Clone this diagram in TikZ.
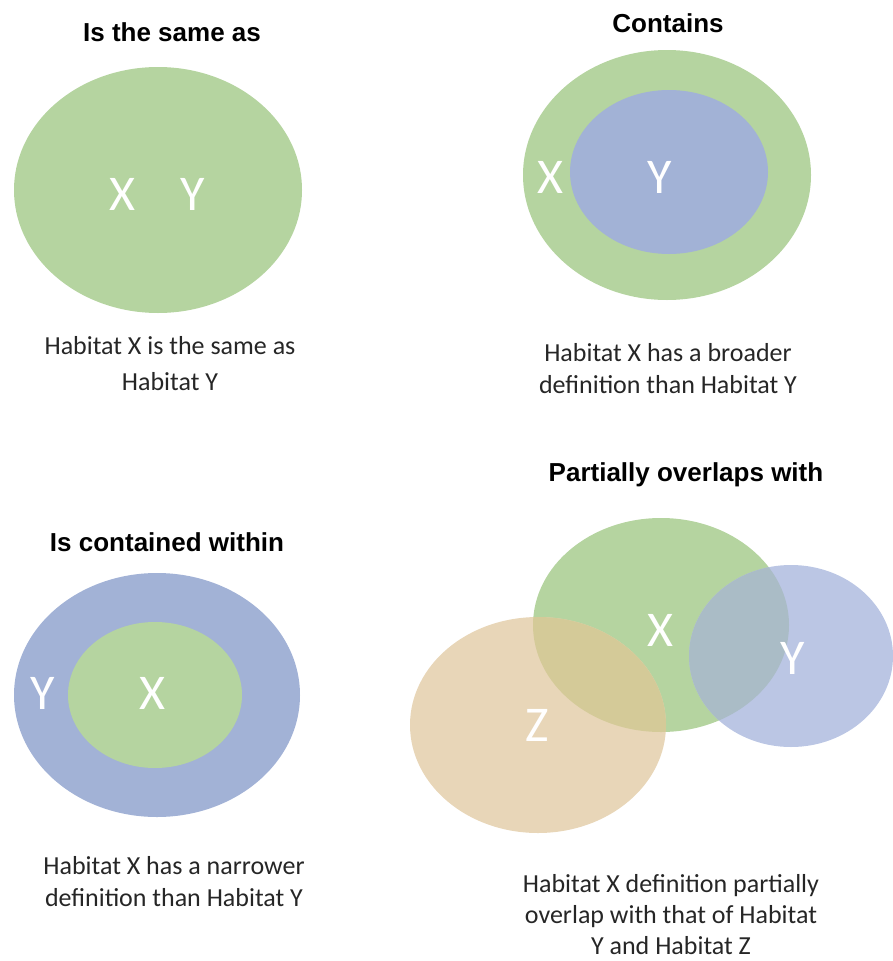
\documentclass[tikz,border=0pt]{standalone}
\usepackage{fontspec}
\setmainfont{Carlito}
\newfontfamily\headfont{Liberation Sans}
\usetikzlibrary{positioning}
\definecolor{blobgreen}{RGB}{181,212,160}
\definecolor{blobblue}{RGB}{162,178,214}
\definecolor{paleblue}{RGB}{187,198,228}
\definecolor{blobtan}{RGB}{232,214,184}
\definecolor{olivemix}{RGB}{212,202,152}
\definecolor{tealmix}{RGB}{170,188,198}
\tikzset{
    heading/.style={font=\headfont\bfseries\fontsize{26}{30}\selectfont, inner sep=0pt},
    caption/.style={font=\fontsize{26}{32}\selectfont, align=center, text=black!85, inner sep=0pt},
    setname/.style={font=\fontsize{50}{50}\selectfont, text=white, inner sep=0pt}
}
\begin{document}
\begin{tikzpicture}[x=1pt, y=-1pt]
  \useasboundingbox (0,0) rectangle (892,961);
  % is the same as
  \fill[blobgreen] (158,190) ellipse [x radius=144, y radius=123];
  \node(sameT)[heading] at (172,32) {Is the same as};
  \node(sameX)[setname] at (122,194) {X};
  \node(sameY)[setname] at (193,194) {Y};
  \node(sameC)[caption, font=\fontsize{26}{36}\selectfont] at (170,364) {Habitat X is the same as\\Habitat Y};
  % contains
  \fill[blobgreen] (667,175) ellipse [x radius=144, y radius=125];
  \fill[blobblue] (669,172) ellipse [x radius=99, y radius=82];
  \node(contT)[heading] at (668,23) {Contains};
  \node(contX)[setname] at (550,177) {X};
  \node(contY)[setname] at (660,177) {Y};
  \node(contC)[caption] at (668,369) {Habitat X has a broader\\definition than Habitat Y};
  % is contained within
  \fill[blobblue] (157,695) ellipse [x radius=143, y radius=122];
  \fill[blobgreen] (155,695) ellipse [x radius=87, y radius=73];
  \node(inT)[heading] at (167,542) {Is contained within};
  \node(inY)[setname] at (43,693) {Y};
  \node(inX)[setname] at (152,693) {X};
  \node(inC)[caption] at (174,882) {Habitat X has a narrower\\definition than Habitat Y};
  % partially overlaps with
  \fill[blobgreen] (661,625) ellipse [x radius=128, y radius=107];
  \fill[paleblue] (791,656) ellipse [x radius=102, y radius=91];
  \fill[blobtan] (538,725) ellipse [x radius=128, y radius=108];
  \begin{scope}
    \clip (661,625) ellipse [x radius=128, y radius=107];
    \fill[olivemix] (538,725) ellipse [x radius=128, y radius=108];
    \fill[tealmix] (791,656) ellipse [x radius=102, y radius=91];
  \end{scope}
  \node(partT)[heading] at (686,475) {Partially overlaps with};
  \node(partX)[setname] at (660,630) {X};
  \node(partY)[setname] at (793,658) {Y};
  \node(partZ)[setname] at (537,725) {Z};
  \node(partC)[caption, font=\fontsize{26}{31}\selectfont] at (671,915) {Habitat X definition partially\\overlap with that of Habitat\\Y and Habitat Z};
\end{tikzpicture}
\end{document}
